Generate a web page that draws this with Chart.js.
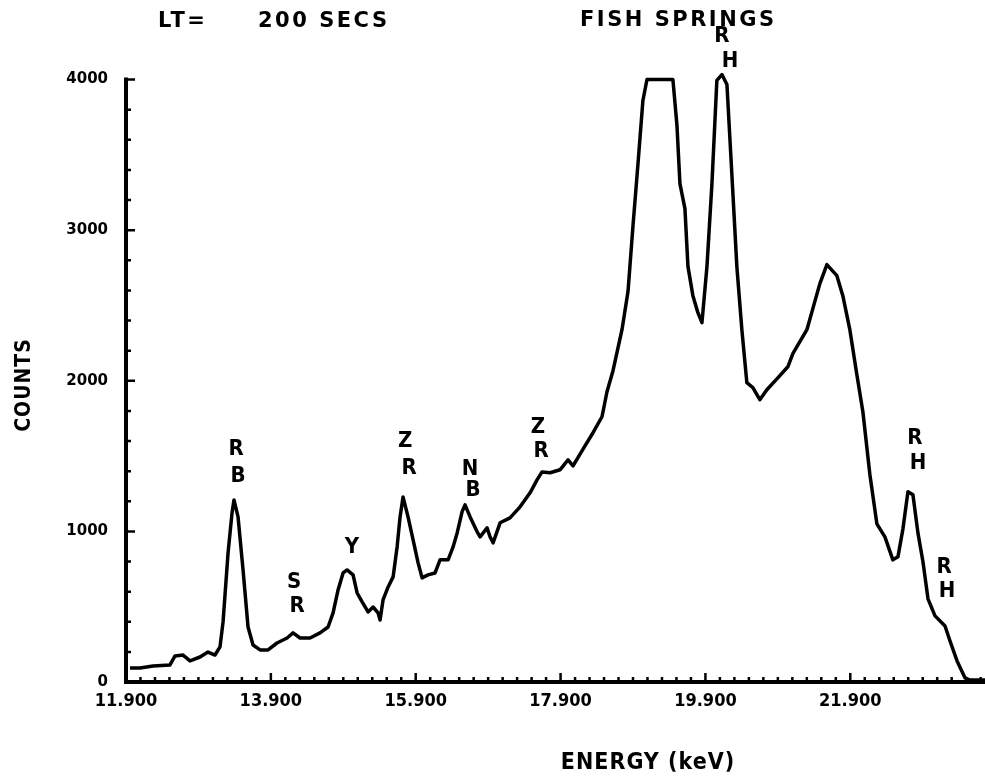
<!DOCTYPE html>
<html>
<head>
<meta charset="utf-8">
<title>Fish Springs - LT 200 secs</title>
<script src="https://cdn.jsdelivr.net/npm/chart.js@4.4.0/dist/chart.umd.min.js"></script>
<style>
  html, body { margin: 0; padding: 0; background: #fff; }
  #wrap { width: 985px; height: 779px; }
</style>
</head>
<body>
<div id="wrap"><canvas id="spectrum" width="985" height="779"></canvas></div>
<script>
// Spectrum trace: energy in keV, counts
const energy = [
  11.955, 12.093, 12.273, 12.507, 12.577, 12.687, 12.784, 12.922, 13.032, 13.129,
  13.198, 13.240, 13.309, 13.364, 13.391, 13.447, 13.516, 13.585, 13.654, 13.751,
  13.861, 13.985, 14.124, 14.207, 14.303, 14.441, 14.579, 14.690, 14.759, 14.828,
  14.897, 14.952, 15.035, 15.091, 15.160, 15.242, 15.311, 15.380, 15.408, 15.449,
  15.519, 15.588, 15.643, 15.684, 15.725, 15.794, 15.864, 15.933, 15.988, 16.070,
  16.167, 16.236, 16.347, 16.416, 16.472, 16.540, 16.581, 16.651, 16.748, 16.789,
  16.885, 16.926, 16.968, 17.065, 17.202, 17.341, 17.479, 17.575, 17.644, 17.755,
  17.892, 18.003, 18.072, 18.237, 18.348, 18.472, 18.541, 18.624, 18.748, 18.831,
  18.900, 18.969, 19.037, 19.093, 19.451, 19.507, 19.548, 19.617, 19.659, 19.727,
  19.796, 19.852, 19.921, 19.990, 20.058, 20.128, 20.197, 20.266, 20.334, 20.403,
  20.472, 20.555, 20.651, 20.748, 20.887, 21.038, 21.107, 21.301, 21.383, 21.480,
  21.577, 21.715, 21.797, 21.894, 21.991, 22.074, 22.171, 22.267, 22.378, 22.488,
  22.558, 22.627, 22.696, 22.765, 22.834, 22.904, 22.973, 23.070, 23.208, 23.277,
  23.374, 23.485, 23.554, 23.762,
];
const counts = [
  93, 93, 106, 113, 173, 179, 140, 166, 199, 179,
  233, 399, 857, 1123, 1209, 1096, 744, 365, 246, 213,
  213, 259, 292, 326, 292, 292, 326, 365, 459, 611,
  724, 744, 711, 591, 532, 465, 498, 459, 412, 545,
  631, 698, 897, 1096, 1229, 1096, 944, 791, 691, 711,
  724, 811, 811, 897, 990, 1130, 1176, 1096, 997, 964,
  1023, 964, 924, 1057, 1090, 1163, 1256, 1342, 1395, 1389,
  1409, 1475, 1435, 1568, 1655, 1761, 1927, 2067, 2339, 2592,
  3030, 3442, 3861, 4000, 4000, 3695, 3309, 3143, 2758, 2565,
  2452, 2386, 2758, 3309, 3994, 4033, 3967, 3362, 2758, 2339,
  1987, 1954, 1874, 1940, 2013, 2093, 2180, 2339, 2479, 2645,
  2771, 2698, 2565, 2339, 2040, 1794, 1376, 1050, 964, 811,
  831, 1017, 1263, 1243, 990, 797, 552, 439, 372, 272,
  140, 27, 13, 13,
];

// Axis ticks
const xTickValues = [11.9, 13.9, 15.9, 17.9, 19.9, 21.9];
const xTickLabels = ["11.900", "13.900", "15.900", "17.900", "19.900", "21.900"];
const yTickValues = [0, 1000, 2000, 3000, 4000];
const yTickLabels = ["0", "1000", "2000", "3000", "4000"];

// Element markers written above the peaks (one letter each, in data units)
const peakLetters = ["R", "B", "S", "R", "Y", "Z", "R", "N", "B", "Z", "R", "R", "H", "R", "H", "R", "H"];
const peakLetterEnergy = [13.419, 13.447, 14.220, 14.261, 15.020, 15.753, 15.808, 16.651, 16.692,
  17.589, 17.630, 20.128, 20.238, 22.793, 22.834, 23.194, 23.236];
const peakLetterCounts = [1548, 1369, 665, 505, 897, 1595, 1422, 1415, 1276,
  1688, 1535, 4286, 4120, 1615, 1455, 764, 605];

const X_MIN = 11.9;
const X_MAX = 23.76;
const Y_MAX = 4050;

const points = energy.map((e, i) => ({ x: e, y: counts[i] }));

// axes drawn plotter style: thick lines with inward ticks, plus the free text
const plotterAxes = {
  id: "plotterAxes",
  afterDraw(chart) {
    const ctx = chart.ctx;
    const xs = chart.scales.x;
    const ys = chart.scales.y;
    const x0 = xs.getPixelForValue(X_MIN);
    const y0 = ys.getPixelForValue(0);
    const yTop = ys.getPixelForValue(4000);

    ctx.save();
    ctx.strokeStyle = "#000";
    ctx.lineWidth = 4;
    ctx.beginPath();
    ctx.moveTo(x0, yTop - 2);
    ctx.lineTo(x0, y0);
    ctx.lineTo(chart.width, y0);
    ctx.stroke();

    ctx.lineWidth = 2.5;
    ctx.beginPath();
    for (let v = 200; v <= 4000; v += 200) {
      const py = ys.getPixelForValue(v);
      const len = v % 1000 === 0 ? 9 : 5;
      ctx.moveTo(x0, py);
      ctx.lineTo(x0 + len, py);
    }
    for (let i = 1; X_MIN + i * 0.2 <= X_MAX; i++) {
      const px = xs.getPixelForValue(X_MIN + i * 0.2);
      const len = i % 10 === 0 ? 9 : 5;
      ctx.moveTo(px, y0);
      ctx.lineTo(px, y0 - len);
    }
    ctx.stroke();

    ctx.fillStyle = "#000";
    ctx.textBaseline = "middle";

    // headings
    ctx.font = "bold 21px 'DejaVu Sans'";
    ctx.letterSpacing = "2.5px";
    ctx.textAlign = "left";
    ctx.fillText("LT=", 158, 22);
    ctx.fillText("200 SECS", 258, 22);
    ctx.fillText("FISH SPRINGS", 580, 21);

    ctx.font = "bold 23px 'DejaVu Sans Condensed'";
    ctx.letterSpacing = "1px";
    ctx.textAlign = "center";
    ctx.fillText("ENERGY (keV)", 648, 763);

    ctx.save();
    ctx.translate(25, 385);
    ctx.rotate(-Math.PI / 2);
    ctx.font = "bold 21px 'DejaVu Sans Condensed'";
    ctx.fillText("COUNTS", 0, 0);
    ctx.restore();

    // peak letters
    ctx.letterSpacing = "0px";
    ctx.font = "bold 22px 'DejaVu Sans Condensed'";
    peakLetters.forEach((t, i) => {
      ctx.fillText(t, xs.getPixelForValue(peakLetterEnergy[i]), ys.getPixelForValue(peakLetterCounts[i]));
    });
    ctx.restore();
  },
};

const ctx = document.getElementById("spectrum").getContext("2d");
const spectrumChart = new Chart(ctx, {
  type: "line",
  data: {
    datasets: [
      {
        label: "Counts",
        data: points,
        borderColor: "#000",
        borderWidth: 3.5,
        borderJoinStyle: "round",
        pointRadius: 0,
        fill: false,
        tension: 0,
      },
    ],
  },
  options: {
    responsive: false,
    animation: false,
    devicePixelRatio: 1,
    layout: { padding: { top: 72, left: 0, right: 0, bottom: 0 } },
    plugins: {
      legend: { display: false },
      tooltip: { enabled: false },
    },
    scales: {
      x: {
        type: "linear",
        min: X_MIN,
        max: X_MAX,
        grid: { display: false, drawTicks: false },
        border: { display: false },
        afterBuildTicks: (scale) => {
          scale.ticks = xTickValues.map((v) => ({ value: v }));
        },
        afterFit: (scale) => {
          scale.height = 97;
        },
        ticks: {
          autoSkip: false,
          maxRotation: 0,
          padding: 9,
          color: "#000",
          font: { family: "'DejaVu Sans Condensed'", weight: "bold", size: 18 },
          callback: (value, index) => xTickLabels[index],
        },
      },
      y: {
        type: "linear",
        min: 0,
        max: Y_MAX,
        grid: { display: false, drawTicks: false },
        border: { display: false },
        afterBuildTicks: (scale) => {
          scale.ticks = yTickValues.map((v) => ({ value: v }));
        },
        afterFit: (scale) => {
          scale.width = 126;
        },
        ticks: {
          autoSkip: false,
          padding: 18,
          color: "#000",
          font: { family: "'DejaVu Sans'", weight: "bold", size: 15 },
          callback: (value, index) => yTickLabels[index],
        },
      },
    },
  },
  plugins: [plotterAxes],
});
</script>
</body>
</html>
